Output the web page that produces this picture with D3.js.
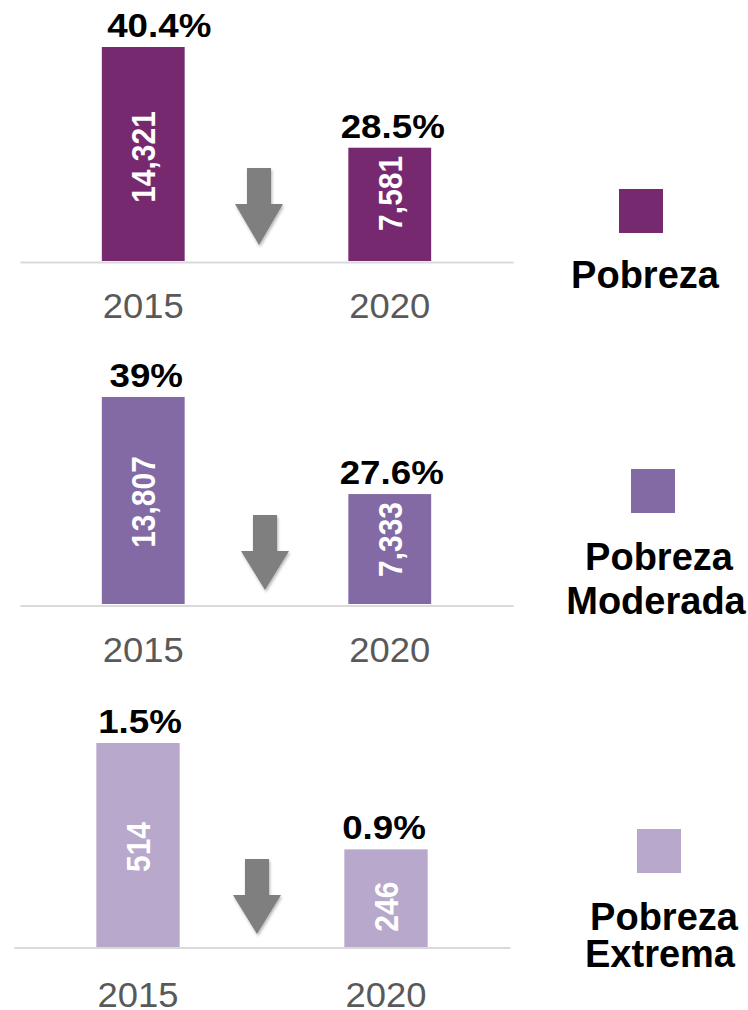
<!DOCTYPE html>
<html>
<head>
<meta charset="utf-8">
<script src="https://cdn.jsdelivr.net/npm/d3@7"></script>
<style>
  html, body { margin: 0; padding: 0; background: #ffffff; }
  svg { display: block; font-family: Arial, "Liberation Sans", Helvetica, sans-serif; }
</style>
</head>
<body>
<svg id="chart" width="748" height="1010"></svg>
<script>
// ---------------- DATA ----------------
const years = ["2015", "2020"];
const categories = ["Pobreza", "Pobreza Moderada", "Pobreza Extrema"];
const legendLines = [["Pobreza"], ["Pobreza", "Moderada"], ["Pobreza", "Extrema"]];
const pobrezaValues = [14321, 7581];
const moderadaValues = [13807, 7333];
const extremaValues = [514, 246];
const pobrezaPct = ["40.4%", "28.5%"];
const moderadaPct = ["39%", "27.6%"];
const extremaPct = ["1.5%", "0.9%"];
const seriesValues = [pobrezaValues, moderadaValues, extremaValues];
const seriesPct = [pobrezaPct, moderadaPct, extremaPct];
const colors = ["#76296F", "#846AA5", "#B8A8CB"];

// ---------------- LAYOUT ----------------
const panels = [
  { x0: 20, x1: 513, base: 261, top: 47,  line: 262,   yearY: 318,  arrowCx: 259, arrowTop: 168, arrowTip: 245,
    legSq: [641, 211], legText: [[645, 288]], pctDx: [16, 3], valDy: [3, -11] },
  { x0: 20, x1: 513, base: 604, top: 397, line: 605.5, yearY: 662,  arrowCx: 265, arrowTop: 515, arrowTip: 590,
    legSq: [653, 491], legText: [[659, 570], [656, 614]], pctDx: [3, 2], valDy: [1.5, -9.5] },
  { x0: 14, x1: 510, base: 947, top: 743, line: 947.5, yearY: 1007, arrowCx: 257, arrowTop: 859, arrowTip: 934,
    legSq: [659, 851], legText: [[664, 930], [660, 967]], pctDx: [2, -2], valDy: [2, 8.5] }
];

const svg = d3.select("#chart");
const defs = svg.append("defs");
const f = defs.append("filter").attr("id", "shadow").attr("x", "-30%").attr("y", "-30%").attr("width", "160%").attr("height", "160%");
f.append("feDropShadow").attr("dx", 1).attr("dy", 2).attr("stdDeviation", 1.5).attr("flood-color", "#000").attr("flood-opacity", 0.3);

panels.forEach((p, i) => {
  const vals = seriesValues[i];
  const pcts = seriesPct[i];
  const g = svg.append("g");

  const x = d3.scaleBand().domain(years).range([p.x0, p.x1]).paddingInner(0.664).paddingOuter(0.332);
  const y = d3.scaleLinear().domain([0, d3.max(vals)]).range([p.base, p.top]);

  // bars
  g.selectAll("rect.bar").data(years).join("rect")
    .attr("class", "bar")
    .attr("x", d => x(d))
    .attr("width", x.bandwidth())
    .attr("y", (d, j) => y(vals[j]))
    .attr("height", (d, j) => y(0) - y(vals[j]))
    .attr("fill", colors[i]);

  // baseline axis
  const axis = d3.axisBottom(x).tickSize(0).tickFormat("");
  const ax = g.append("g").attr("transform", `translate(0,${p.line})`).call(axis);
  ax.select(".domain").attr("stroke", "#d9d9d9").attr("stroke-width", 2);
  ax.selectAll(".tick").remove();

  // year labels
  g.selectAll("text.year").data(years).join("text")
    .attr("class", "year")
    .attr("transform", d => `translate(${x(d) + x.bandwidth() / 2},${p.yearY}) scale(1.04,1)`)
    .attr("text-anchor", "middle")
    .attr("font-size", 35)
    .attr("fill", "#595959")
    .text(d => d);

  // percent labels
  g.selectAll("text.pct").data(years).join("text")
    .attr("class", "pct")
    .attr("transform", (d, j) => `translate(${x(d) + x.bandwidth() / 2 + p.pctDx[j]},${y(vals[j]) - 10}) scale(1.08,1)`)
    .attr("text-anchor", "middle")
    .attr("font-size", 34)
    .attr("font-weight", "bold")
    .attr("fill", "#000")
    .text((d, j) => pcts[j]);

  // value labels rotated inside bars
  const fmt = d3.format(",");
  g.selectAll("text.val").data(years).join("text")
    .attr("class", "val")
    .attr("transform", (d, j) => `translate(${x(d) + x.bandwidth() / 2},${(y(vals[j]) + y(0)) / 2 + p.valDy[j]}) rotate(-90) scale(1,1.1)`)
    .attr("text-anchor", "middle")
    .attr("dy", "0.36em")
    .attr("font-size", 30)
    .attr("font-weight", "bold")
    .attr("fill", "#ffffff")
    .text((d, j) => fmt(vals[j]));

  // down arrow
  const sw = 12, hw = 24, headTop = p.arrowTop + 36;
  const c = p.arrowCx;
  const pts = [[c - sw, p.arrowTop], [c + sw, p.arrowTop], [c + sw, headTop], [c + hw, headTop],
               [c, p.arrowTip], [c - hw, headTop], [c - sw, headTop]];
  g.append("path")
    .attr("d", d3.line()(pts) + "Z")
    .attr("fill", "#7F7F7F")
    .attr("filter", "url(#shadow)");

  // legend
  g.append("rect")
    .attr("x", p.legSq[0] - 22).attr("y", p.legSq[1] - 22)
    .attr("width", 44).attr("height", 44)
    .attr("fill", colors[i]);
  legendLines[i].forEach((ln, k) => {
    g.append("text")
      .attr("x", p.legText[k][0]).attr("y", p.legText[k][1])
      .attr("text-anchor", "middle")
      .attr("font-size", 38)
      .attr("font-weight", "bold")
      .attr("fill", "#000")
      .text(ln);
  });
});
</script>
</body>
</html>
